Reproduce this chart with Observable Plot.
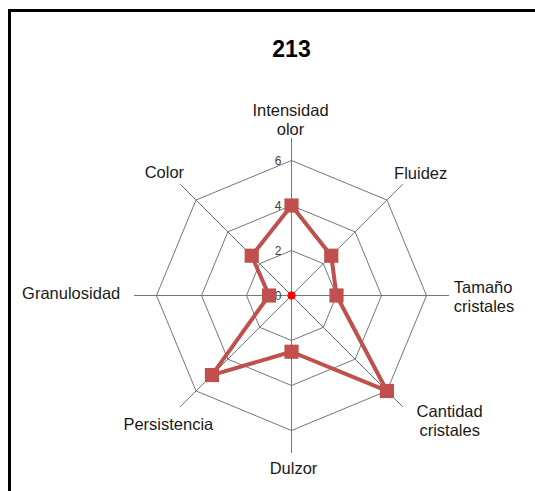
<!DOCTYPE html>
<html><head><meta charset="utf-8">
<script src="https://cdn.jsdelivr.net/npm/d3@7"></script>
<script src="https://cdn.jsdelivr.net/npm/@observablehq/plot@0.6"></script>
<style>
body{margin:0;background:#fff;}
#wrap{position:relative;width:535px;height:491px;overflow:hidden;background:#fff;}
#chart{position:absolute;left:0;top:0;}
#frame{position:absolute;left:8px;top:9px;width:700px;height:700px;border-left:3px solid #000;border-top:3px solid #000;pointer-events:none;}
</style></head><body>
<div id="wrap"><div id="chart"></div><div id="frame"></div></div>
<script>
// ---- data ----
const title = "213";
const categories = ["Intensidad\nolor", "Fluidez", "Tamaño\ncristales", "Cantidad\ncristales", "Dulzor", "Persistencia", "Granulosidad", "Color"];
const values = [4, 2.5, 2, 6, 2.5, 5, 1, 2.5];
const gridLevels = [2, 4, 6];
const tickLabels = [0, 2, 4, 6];
const axisMax = 7;

// ---- layout (not data) ----
const labelRadius = 7.3;
const labelLayout = [
  {anchor: "middle", dx: -1, dy: -12},
  {anchor: "middle", dx: 13, dy: -6},
  {anchor: "start", dx: -2, dy: 1},
  {anchor: "middle", dx: 42, dy: 9},
  {anchor: "middle", dx: 2, dy: 8},
  {anchor: "middle", dx: -7, dy: 12},
  {anchor: "end", dx: -7, dy: -2},
  {anchor: "middle", dx: -11, dy: -7}
];

const n = categories.length;
const ang = i => (2 * Math.PI * i) / n;
const px = (i, r) => r * Math.sin(ang(i));
const py = (i, r) => r * Math.cos(ang(i));

const gridPts = gridLevels.flatMap(lv => d3.range(n + 1).map(i => ({lv, x: px(i % n, lv), y: py(i % n, lv)})));
const spokes = categories.map((c, i) => ({x2: px(i, axisMax), y2: py(i, axisMax)}));
const series = d3.range(n + 1).map(j => {const i = j % n; return {x: px(i, values[i]), y: py(i, values[i])};});
const pts = values.map((v, i) => ({x: px(i, v), y: py(i, v)}));

const red = "#C0504D";
const grid = "#767676";
const font = "'Liberation Sans', Arial, sans-serif";

const labelMarks = categories.map((c, i) => Plot.text([c], {
  x: () => px(i, labelRadius), y: () => py(i, labelRadius), text: d => d,
  textAnchor: labelLayout[i].anchor, lineAnchor: "middle",
  dx: labelLayout[i].dx, dy: labelLayout[i].dy,
  fontSize: 16.5, lineHeight: 1.13, fill: "#1a1a1a"
}));

const k = 22.5, cx = 291, cy = 295;
const plot = Plot.plot({
  width: 535, height: 491,
  marginTop: 0, marginRight: 0, marginBottom: 0, marginLeft: 0,
  style: {fontFamily: font, background: "transparent"},
  x: {domain: [-10, 10], range: [cx - 10 * k, cx + 10 * k], axis: null},
  y: {domain: [-10, 10], range: [cy + 10 * k, cy - 10 * k], axis: null},
  marks: [
    Plot.line(gridPts, {x: "x", y: "y", z: "lv", stroke: grid, strokeWidth: 1}),
    Plot.link(spokes, {x1: () => 0, y1: () => 0, x2: "x2", y2: "y2", stroke: grid, strokeWidth: 1}),
    Plot.text(tickLabels, {x: () => 0, y: d => d, text: d => String(d), textAnchor: "end", dx: -10, dy: 1, fontSize: 12, fill: "#404040"}),
    Plot.line(series, {x: "x", y: "y", stroke: red, strokeWidth: 4, strokeLinejoin: "round"}),
    Plot.dot(pts, {x: "x", y: "y", symbol: "square", r: 8, fill: red, stroke: "none"}),
    Plot.dot([0], {x: () => 0, y: () => 0, r: 4, fill: "#ff0000", stroke: "none"}),
    ...labelMarks,
    Plot.text([title], {frameAnchor: "top", x: () => 0, dy: 40, text: d => d, fontSize: 23, fontWeight: "bold", fill: "#000"})
  ]
});
document.getElementById("chart").appendChild(plot);
</script>
</body></html>
